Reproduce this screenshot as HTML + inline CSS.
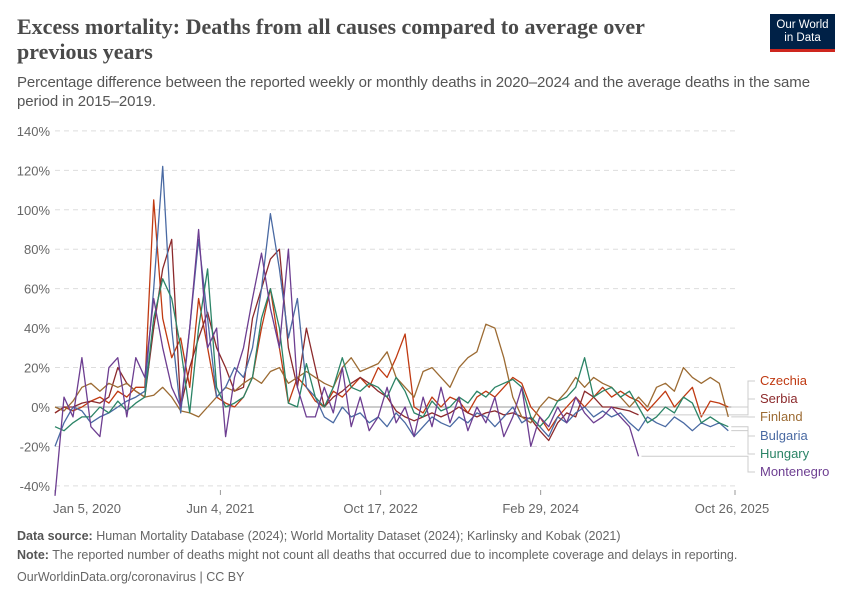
<!DOCTYPE html>
<html><head><meta charset="utf-8"><style>
body{margin:0;background:#fff;font-family:"Liberation Sans",sans-serif}
#wrap{position:relative;width:850px;height:600px;overflow:hidden}
.t{position:absolute;left:17px;top:14px;font-family:"Liberation Serif",serif;font-size:22px;font-weight:bold;color:#4a4a4a;line-height:25px;width:670px}
.sub{position:absolute;left:17px;top:73px;font-size:15px;color:#555;line-height:19px;width:830px;letter-spacing:-0.1px}
.foot{position:absolute;left:17px;font-size:12.5px;color:#666}
.foot b{color:#555}
#logo{position:absolute;left:770px;top:14px;width:65px;height:38px;background:#002147;color:#fff;font-size:11.5px;text-align:center;line-height:13px;padding-top:5px;box-sizing:border-box;border-bottom:3px solid #ce261e}
</style></head><body><div id="wrap">
<div class="t">Excess mortality: Deaths from all causes compared to average over previous years</div>
<div id="logo">Our World<br>in Data</div>
<div class="sub">Percentage difference between the reported weekly or monthly deaths in 2020–2024 and the average deaths in the same<br>period in 2015–2019.</div>
<svg id="plot" width="850" height="600" style="position:absolute;left:0;top:0"></svg>
<div class="foot" style="top:529px"><b>Data source:</b> Human Mortality Database (2024); World Mortality Dataset (2024); Karlinsky and Kobak (2021)</div>
<div class="foot" style="top:548px"><b>Note:</b> The reported number of deaths might not count all deaths that occurred due to incomplete coverage and delays in reporting.</div>
<div class="foot" style="top:570px">OurWorldinData.org/coronavirus | CC BY</div>
</div>
<script>
const yTicks=[-40,-20,0,20,40,60,80,100,120,140];
const xTickWeeks=[0,73.7,145.1,216.4,303];
const xTickLabels=["Jan 5, 2020","Jun 4, 2021","Oct 17, 2022","Feb 29, 2024","Oct 26, 2025"];
const seriesNames=["Czechia","Serbia","Finland","Bulgaria","Hungary","Montenegro"];
const seriesColors=["#c03a12","#8c2a2c","#9c6b33","#4a6aa3","#2b8466","#6d3e91"];
const czechia=[-3,0,-2,0,3,5,2,8,5,10,10,105,45,25,35,10,55,30,5,2,0,5,15,40,60,30,2,15,10,3,0,8,5,10,15,10,20,15,25,37,0,-3,5,0,5,3,-3,5,8,5,10,15,12,0,-5,-12,-5,0,5,0,5,10,5,8,5,3,-2,3,8,0,5,10,-5,3,2,0];
const serbia=[-3,0,0,2,3,2,5,20,12,8,5,40,70,85,0,20,35,48,30,20,8,10,45,60,75,80,30,10,40,20,0,5,8,12,15,12,8,5,-2,-5,-7,-5,-3,-5,-3,0,-3,-5,-3,-2,-4,-3,-5,-6,-12,-17,-8,-3,-5,8,5,0,0,-1,-2,-4];
const finland=[0,-2,3,10,12,8,12,10,12,8,5,6,10,5,-2,-3,-5,0,5,10,8,12,15,12,18,20,12,15,18,15,12,10,20,25,18,20,22,28,15,10,5,18,20,15,10,20,25,28,42,40,25,5,-5,-8,0,5,3,8,15,10,15,12,10,5,0,5,0,10,12,8,20,15,12,15,12,-5];
const bulgaria=[-20,-8,0,-2,-8,-5,-3,0,3,5,8,60,122,40,-3,40,85,45,5,10,20,15,30,60,98,70,35,55,10,5,-5,-8,0,-5,-3,-8,-5,-10,-3,-8,-15,-10,-5,-8,-10,-5,-8,-3,-5,-10,-5,0,-8,-5,-10,-15,-5,-8,-3,0,-5,-2,-5,-3,-8,-12,-5,-8,-10,-5,-8,-12,-8,-10,-8,-12];
const hungary=[-10,-12,-8,-5,-5,0,-3,3,-2,2,5,45,65,55,30,-3,40,70,10,0,2,5,15,45,60,40,2,0,22,5,0,10,25,10,8,12,10,5,15,8,-3,-5,3,-2,0,5,2,8,5,10,12,14,10,-5,-10,-5,3,5,10,25,5,8,10,5,8,0,-8,-5,0,-3,5,2,-8,-5,-8,-10];
const montenegro=[-45,5,-5,25,-10,-15,20,25,-5,25,15,55,30,10,0,40,90,30,40,-15,15,30,55,78,50,30,80,10,-5,-5,10,-3,20,-10,5,-12,-5,10,-8,0,-15,5,-10,10,-8,5,-12,0,-8,5,-15,-5,10,-20,-5,-10,0,-8,5,-3,-8,-5,0,-5,-10,-25];
const seriesData=[czechia,serbia,finland,bulgaria,hungary,montenegro];
const labelY=[385,403,421,440,458,476];
const weekStep=4;
const X0=55,X1=735,W1=303,Y0=407,PPV=355/180;
const xs=w=>X0+w*(X1-X0)/W1;
const ys=v=>Y0-v*PPV;
const svg=document.getElementById('plot');
const NS='http://www.w3.org/2000/svg';
function mk(t,a){const e=document.createElementNS(NS,t);for(const k in a)e.setAttribute(k,a[k]);svg.appendChild(e);return e;}
yTicks.forEach(v=>{
  const l=mk('line',{x1:55,x2:735,y1:ys(v),y2:ys(v),stroke:v===0?'#999':'#ddd','stroke-dasharray':v===0?'':'5,4','stroke-width':1});
  
  
  const t=mk('text',{x:50,y:ys(v)+5,'text-anchor':'end','font-size':13,fill:'#666','font-family':'Liberation Sans, sans-serif'});
  t.textContent=v+'%';
  
  
});
xTickWeeks.forEach((w,i)=>{
  const l=mk('line',{x1:xs(w),x2:xs(w),y1:490,y2:495,stroke:'#999'});
  
  
  const t=mk('text',{x:xs(w)+(i===0?32:i===4?-3:0),y:513,'text-anchor':'middle','font-size':13,fill:'#666','font-family':'Liberation Sans, sans-serif'});
  t.textContent=xTickLabels[i];
  
  
});
seriesData.forEach((d,s)=>{
  const pts=d.map((v,i)=>xs(i*weekStep).toFixed(1)+','+ys(v).toFixed(1)).join(' ');
  const p=mk('polyline',{points:pts,fill:'none',stroke:seriesColors[s],'stroke-width':1.3,'stroke-linejoin':'round'});
  
  
  const lx=xs((d.length-1)*weekStep),ly=ys(d[d.length-1]);
  const c=mk('polyline',{points:`${lx+3},${ly} 748,${ly} 748,${labelY[s]-4} 755,${labelY[s]-4}`,fill:'none',stroke:'#ccc','stroke-width':1});
  
  
  const t=mk('text',{x:760,y:labelY[s],'font-size':13,fill:seriesColors[s],'font-family':'Liberation Sans, sans-serif'});
  t.textContent=seriesNames[s];
  
  
});
</script></body></html>
